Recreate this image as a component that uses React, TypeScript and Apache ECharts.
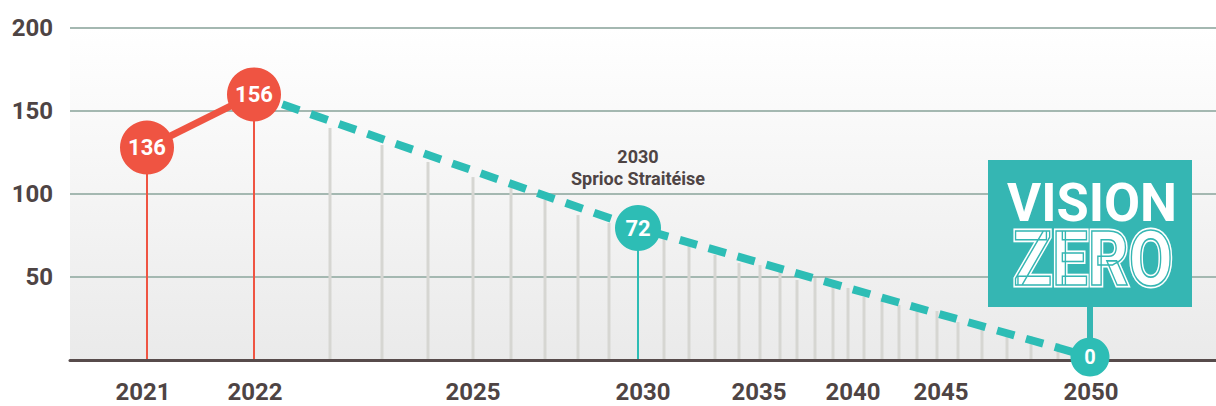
import React, { useEffect, useRef } from 'react';
import * as echarts from 'echarts';

// Timeline positions (axis units along a non-linear timeline) and tick labels
const axisLabelPos = [73, 185, 403, 573, 689, 783, 871, 1021];
const axisLabelYears = ['2021', '2022', '2025', '2030', '2035', '2040', '2045', '2050'];

// Milestones (circles)
const milestoneYears = ['2021', '2022', '2030', '2050'];
const milestonePos = [77, 184, 568, 1020];
const milestoneValues = [136, 156, 72, 0];
const milestoneLevels = [128, 160, 79.5, 1.8];

// Intermediate yearly trajectory stems (grey)
const stemPos = [260, 312, 358, 403, 441, 475, 508, 539, 594, 619, 645, 669, 690, 710, 727, 745, 763, 778, 794, 812, 829, 847, 867, 888, 912, 937, 961, 988];
const stemLevels = [139.8, 129.5, 119.3, 110.2, 103.6, 96.4, 87.3, 82.5, 72.9, 69.3, 63.3, 58.4, 57.2, 53.6, 48.2, 49.4, 47, 43.4, 38, 37.3, 33.1, 30.1, 29.5, 22.9, 19.3, 18.1, 14.5, 10.2];

const yTicks = [0, 50, 100, 150, 200];

const RED = '#ef5442';
const TEAL = '#2dbdb5';
const BOX = '#35b6b3';
const TEXT = '#4e4444';
const FONT = 'Roboto, "Open Sans", sans-serif';

export default function App() {
  const ref = useRef<HTMLDivElement>(null);

  useEffect(() => {
    if (!ref.current) return;
    const chart = echarts.init(ref.current, undefined, { renderer: 'svg' });

    const stemData: any[] = [];
    stemPos.forEach((p, i) => stemData.push([p, stemLevels[i], 0]));
    stemData.push([milestonePos[0], milestoneLevels[0], 1]);
    stemData.push([milestonePos[1], milestoneLevels[1], 1]);
    stemData.push([milestonePos[2], milestoneLevels[2], 2]);

    const sizes = [54, 54, 46, 39];
    const colors = [RED, RED, TEAL, TEAL];
    const fontSizes = [22, 22, 22, 20];
    const scatterData = milestoneYears.map((y, i) => ({
      name: y,
      value: [milestonePos[i], milestoneLevels[i]],
      symbolSize: sizes[i],
      itemStyle: { color: colors[i], opacity: 1 },
      label: {
        show: true,
        position: 'inside',
        formatter: String(milestoneValues[i]),
        color: '#ffffff',
        fontSize: fontSizes[i],
        fontWeight: 'bold',
        fontFamily: FONT,
      },
    }));

    const x2050 = 70 + milestonePos[3];

    chart.setOption({
      animation: false,
      grid: {
        left: 70,
        right: 0,
        top: 28,
        bottom: 46,
        show: true,
        borderWidth: 0,
        backgroundColor: new echarts.graphic.LinearGradient(0, 0, 0, 1, [
          { offset: 0, color: '#ffffff' },
          { offset: 1, color: '#eaeaea' },
        ]),
      },
      xAxis: {
        type: 'value',
        min: 0,
        max: 1146,
        splitLine: { show: false },
        axisTick: { show: false },
        axisLine: { show: true, lineStyle: { color: '#574b4b', width: 3 } },
        axisLabel: {
          customValues: axisLabelPos,
          formatter: (v: number) => {
            const i = axisLabelPos.indexOf(v);
            return i >= 0 ? axisLabelYears[i] : '';
          },
          color: TEXT,
          fontSize: 24,
          lineHeight: 24,
          fontWeight: 'bold',
          fontFamily: FONT,
          margin: 20,
        },
      },
      yAxis: {
        type: 'value',
        min: yTicks[0],
        max: yTicks[yTicks.length - 1],
        interval: 50,
        axisLine: { show: false },
        axisTick: { show: false },
        splitLine: { show: true, lineStyle: { color: '#a4b8b1', width: 2 } },
        axisLabel: {
          formatter: (v: number) => (v === 0 ? '' : String(v)),
          color: TEXT,
          fontSize: 24,
          fontWeight: 'bold',
          fontFamily: FONT,
          margin: 17,
        },
      },
      series: [
        {
          type: 'custom',
          data: stemData,
          z: 1,
          renderItem: (params: any, api: any) => {
            const x = api.value(0);
            const lvl = api.value(1);
            const kind = api.value(2);
            const p0 = api.coord([x, 0]);
            const p1 = api.coord([x, lvl]);
            const color = kind === 0 ? '#d6d6d2' : kind === 1 ? RED : TEAL;
            const w = kind === 0 ? 3 : 2;
            return {
              type: 'line',
              shape: { x1: p0[0], y1: p0[1] - 1, x2: p1[0], y2: p1[1] },
              style: { stroke: color, lineWidth: w },
            };
          },
        },
        {
          type: 'line',
          data: [
            [milestonePos[1], milestoneLevels[1]],
            [milestonePos[2], milestoneLevels[2]],
            [milestonePos[3], milestoneLevels[3]],
          ],
          symbol: 'none',
          z: 3,
          lineStyle: { color: TEAL, width: 8, type: [18, 12], cap: 'butt' },
        },
        {
          type: 'line',
          data: [
            [milestonePos[0], milestoneLevels[0]],
            [milestonePos[1], milestoneLevels[1]],
          ],
          symbol: 'none',
          z: 4,
          lineStyle: { color: RED, width: 7 },
        },
        {
          type: 'scatter',
          data: scatterData,
          z: 6,
          itemStyle: { opacity: 1 },
        },
      ],
      graphic: [
        {
          type: 'line',
          z: 5,
          shape: { x1: x2050, y1: 300, x2: x2050, y2: 345 },
          style: { stroke: BOX, lineWidth: 6 },
        },
        {
          type: 'rect',
          z: 10,
          shape: { x: 988, y: 160, width: 204, height: 147 },
          style: { fill: BOX },
        },
        {
          type: 'text',
          z: 11,
          x: 1092,
          y: 203,
          scaleX: 0.97,
          style: {
            text: 'VISION',
            fill: '#ffffff',
            font: `bold 54px ${FONT}`,
            textAlign: 'center',
            textVerticalAlign: 'middle',
          },
        },
        {
          type: 'text',
          z: 11,
          x: 1093,
          y: 259,
          scaleX: 0.84,
          style: {
            text: 'ZERO',
            fill: '#ffffff',
            stroke: '#ffffff',
            lineWidth: 5,
            font: `bold 76px ${FONT}`,
            textAlign: 'center',
            textVerticalAlign: 'middle',
          },
        },
        {
          type: 'text',
          z: 12,
          x: 1093,
          y: 259,
          scaleX: 0.84,
          style: {
            text: 'ZERO',
            fill: 'rgba(0,0,0,0)',
            stroke: BOX,
            lineWidth: 1.6,
            font: `bold 76px ${FONT}`,
            textAlign: 'center',
            textVerticalAlign: 'middle',
          },
        },
        {
          type: 'text',
          z: 11,
          x: 638,
          y: 156,
          style: {
            text: '2030',
            fill: TEXT,
            font: `bold 18px ${FONT}`,
            textAlign: 'center',
            textVerticalAlign: 'middle',
          },
        },
        {
          type: 'text',
          z: 11,
          x: 638,
          y: 178,
          style: {
            text: 'Sprioc Straitéise',
            fill: TEXT,
            font: `bold 18px ${FONT}`,
            textAlign: 'center',
            textVerticalAlign: 'middle',
          },
        },
      ],
    });

    return () => chart.dispose();
  }, []);

  return (
    <div
      ref={ref}
      style={{ position: 'fixed', left: 0, top: 0, width: 1216, height: 406, background: '#ffffff' }}
    />
  );
}
